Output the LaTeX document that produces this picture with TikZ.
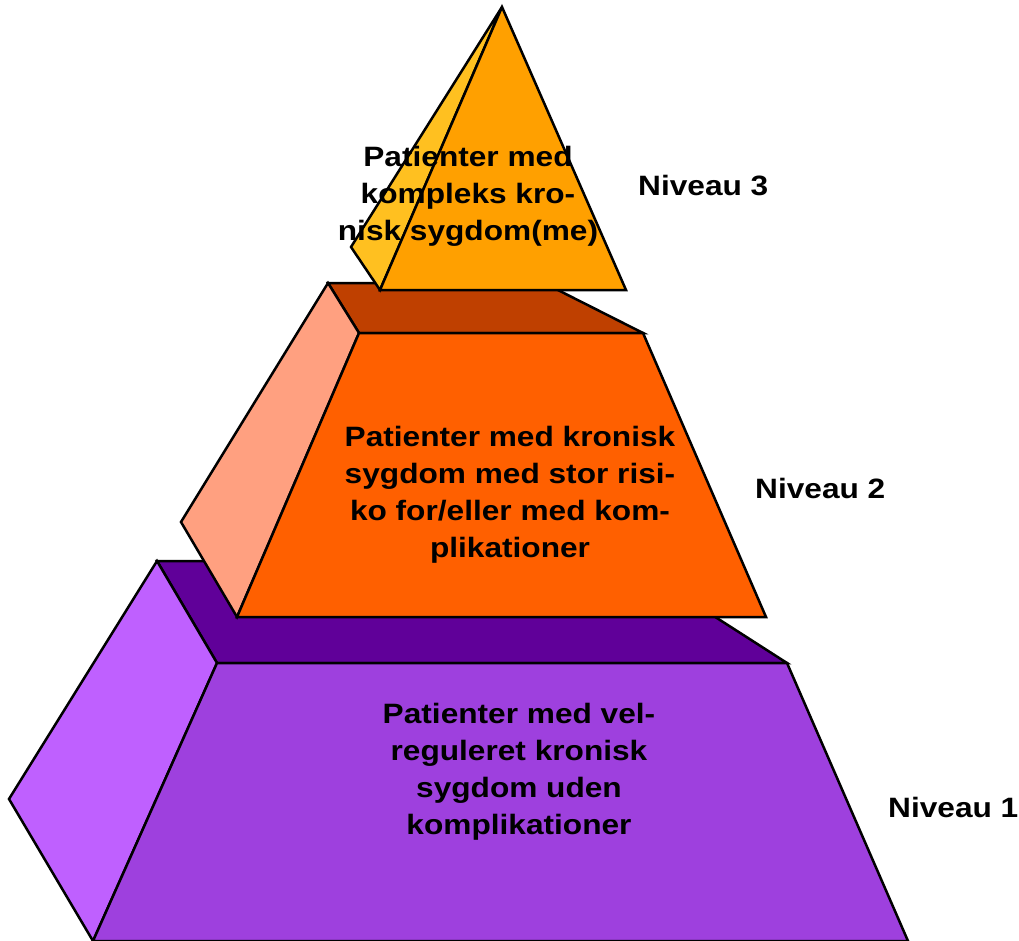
\documentclass[tikz,border=0pt]{standalone}
\usepackage{fontspec}
\setmainfont[FakeStretch=1.13]{Liberation Sans}
\usepackage{tikz}

\definecolor{lowtop}{RGB}{96,0,153}
\definecolor{lowside}{RGB}{191,96,255}
\definecolor{lowfront}{RGB}{158,64,222}
\definecolor{midtop}{RGB}{191,64,0}
\definecolor{midside}{RGB}{255,160,128}
\definecolor{midfront}{RGB}{255,96,0}
\definecolor{topside}{RGB}{255,192,32}
\definecolor{topfront}{RGB}{255,160,0}

\tikzset{
  face/.style={draw=black, line width=2.5pt, line join=miter},
  tiertext/.style={font=\fontsize{28}{37}\selectfont\bfseries, align=center, inner sep=0pt},
  leveltext/.style={font=\fontsize{28}{34}\selectfont\bfseries, anchor=base west, inner sep=0pt},
}

\begin{document}
\begin{tikzpicture}[x=1pt,y=-1pt]

        % Canvas
        \useasboundingbox (0,0) rectangle (1019,941);

        % Points, bottom tier
        \coordinate (L1) at (157,561);
        \coordinate (L2) at (628,561);
        \coordinate (L3) at (787,663);
        \coordinate (L4) at (217,663);
        \coordinate (L5) at (908,941);
        \coordinate (L6) at (93,941);
        \coordinate (L7) at (9,799);

        % Points, middle tier
        \coordinate (M1) at (328,283);
        \coordinate (M2) at (544,283);
        \coordinate (M3) at (643,333);
        \coordinate (M4) at (359,333);
        \coordinate (M5) at (766,617);
        \coordinate (M6) at (237,617);
        \coordinate (M7) at (181,522);

        % Points, top tier
        \coordinate (T0) at (502,7);
        \coordinate (T1) at (380,290);
        \coordinate (T2) at (626,290);
        \coordinate (T3) at (351,247);

        % Bottom tier
        \filldraw[face, fill=lowtop] (L1) -- (L2) -- (L3) -- (L4) -- cycle;
        \filldraw[face, fill=lowside] (L1) -- (L4) -- (L6) -- (L7) -- cycle;
        \filldraw[face, fill=lowfront] (L4) -- (L3) -- (L5) -- (L6) -- cycle;

        % Middle tier
        \filldraw[face, fill=midtop] (M1) -- (M2) -- (M3) -- (M4) -- cycle;
        \filldraw[face, fill=midside] (M1) -- (M4) -- (M6) -- (M7) -- cycle;
        \filldraw[face, fill=midfront] (M4) -- (M3) -- (M5) -- (M6) -- cycle;

        % Top tier
        \filldraw[face, fill=topside] (T0) -- (T1) -- (T3) -- cycle;
        \filldraw[face, fill=topfront] (T0) -- (T2) -- (T1) -- cycle;

        % Tier texts
        \node[tiertext] (toptext) at (468,196) {Patienter med\\kompleks kro-\\nisk sygdom(me)};
        \node[tiertext] (midtext) at (510,495) {Patienter med kronisk\\sygdom med stor risi-\\ko for/eller med kom-\\plikationer};
        \node[tiertext] (lowtext) at (519,772) {Patienter med vel-\\reguleret kronisk\\sygdom uden\\komplikationer};

        % Level labels
        \node[leveltext] (level3) at (638,196) {Niveau 3};
        \node[leveltext] (level2) at (755,498) {Niveau 2};
        \node[leveltext] (level1) at (888,817) {Niveau 1};

\end{tikzpicture}
\end{document}
